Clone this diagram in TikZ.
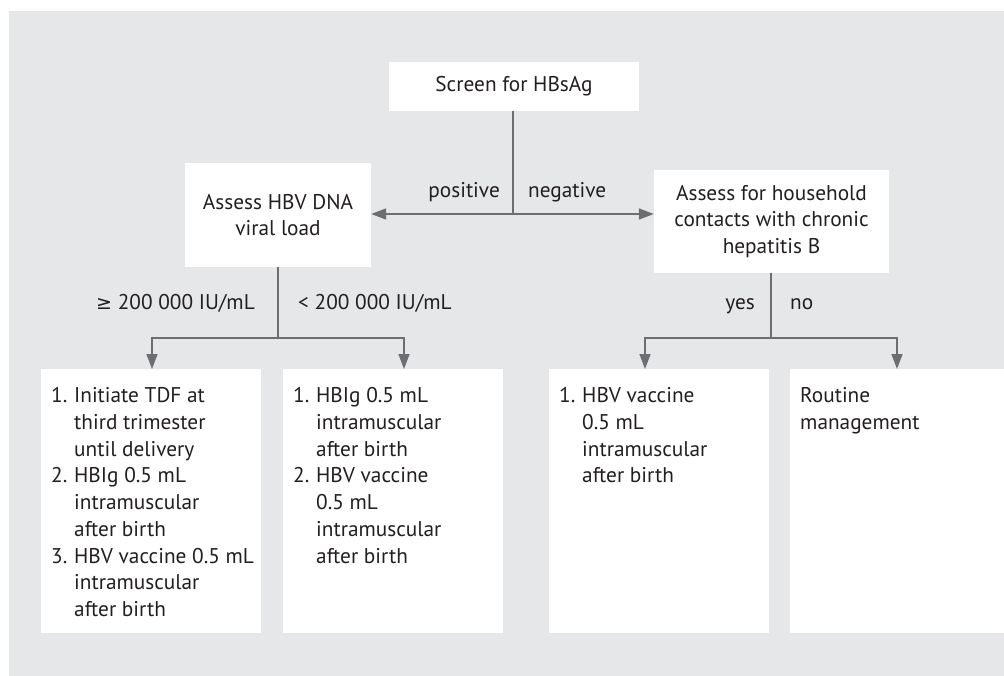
\documentclass[tikz,border=0pt]{standalone}
\usepackage{fontspec}
\setmainfont{PT Sans}
\newfontfamily\symfont{DejaVu Sans}
\usetikzlibrary{arrows.meta,calc}
\definecolor{bggray}{HTML}{E6E7E8}
\definecolor{linegray}{HTML}{6D6E71}
\definecolor{txtcol}{HTML}{231F20}
\newcommand{\itemlist}[1]{\parbox[b][264pt][t]{200pt}{\vspace*{15pt}\noindent\begin{tabular}[t]{@{}p{23pt}@{}l@{}}#1\end{tabular}}}
\begin{document}
\begin{tikzpicture}[x=1pt,y=-1pt,
  font=\fontsize{21.3}{26.7}\selectfont, text=txtcol,
  cbox/.style={fill=white, draw=none, inner sep=0pt, align=center},
  lbox/.style={fill=white, draw=none, inner xsep=10pt, inner ysep=0pt, anchor=north west},
  ln/.style={draw=linegray, line width=1.5pt},
  arr/.style={ln, -{Triangle[length=15pt,width=11pt]}},
  darr/.style={ln, {Triangle[length=15pt,width=11pt]}-{Triangle[length=15pt,width=11pt]}},
  lbl/.style={inner sep=0pt}]
\useasboundingbox (0,0) rectangle (1004,676);
\fill[bggray] (9,11) rectangle (1004,676);

\node[cbox, minimum width=250pt, minimum height=49pt] (screen) at (514,86.5) {Screen for HBsAg};
\node[cbox, minimum width=186pt, minimum height=104pt] (hbv) at (278,215) {Assess HBV DNA\\viral load};
\node[cbox, minimum width=235pt, minimum height=103pt] (house) at (771.5,221.5) {Assess for household\\contacts with chronic\\hepatitis B};

\node[lbox] (b1) at (41,369) {\itemlist{1. & Initiate TDF at\\ & third trimester\\ & until delivery\\ 2. & HBIg 0.5 mL\\ & intramuscular\\ & after birth\\ 3. & HBV vaccine 0.5 mL\\ & intramuscular\\ & after birth}};
\node[lbox] (b2) at (283,369) {\itemlist{1. & HBIg 0.5 mL\\ & intramuscular\\ & after birth\\ 2. & HBV vaccine\\ & 0.5 mL\\ & intramuscular\\ & after birth}};
\node[lbox] (b3) at (549,369) {\itemlist{1. & HBV vaccine\\ & 0.5 mL\\ & intramuscular\\ & after birth}};
\node[lbox] (b4) at (790,369) {\parbox[b][264pt][t]{200pt}{\vspace*{15pt}\noindent\begin{tabular}[t]{@{}l@{}}Routine\\ management\end{tabular}}};

\coordinate (j1) at (513,214);
\draw[ln] (j1 |- screen.south) -- (j1);
\draw[darr] (j1 -| hbv.east) -- (j1 -| house.west);
\node[lbl, anchor=base east] (pos) at (500,198) {positive};
\node[lbl, anchor=base west] (neg) at (528,198) {negative};

\coordinate (j2) at (278,338);
\coordinate (j2l) at (152,338);
\coordinate (j2r) at (404,338);
\draw[ln] (hbv.south) -- (j2);
\draw[darr] (j2l |- b1.north) -- (j2l) -- (j2r) -- (j2r |- b2.north);
\node[lbl, anchor=base east] (hi) at (255,310) {{\symfont\fontsize{19}{24}\selectfont ≥} 200 000 IU/mL};
\node[lbl, anchor=base west] (lo) at (298,310) {< 200 000 IU/mL};

\coordinate (j3) at (771,338);
\coordinate (j3l) at (645,338);
\coordinate (j3r) at (897,338);
\draw[ln] (j3 |- house.south) -- (j3);
\draw[darr] (j3l |- b3.north) -- (j3l) -- (j3r) -- (j3r |- b4.north);
\node[lbl, anchor=base east] (yes) at (755,310) {yes};
\node[lbl, anchor=base west] (no) at (790,310) {no};
\end{tikzpicture}
\end{document}
